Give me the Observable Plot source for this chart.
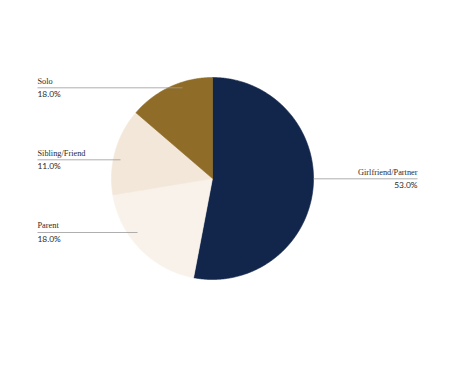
<!DOCTYPE html>
<html>
<head>
<meta charset="utf-8">
<script src="https://cdn.jsdelivr.net/npm/d3@7"></script>
<script src="https://cdn.jsdelivr.net/npm/@observablehq/plot@0.6"></script>
<style>
  html, body { margin: 0; padding: 0; background: #ffffff; }
  #chart { width: 450px; height: 368px; }
</style>
</head>
<body>
<div id="chart"></div>
<script>
// Data (slice shares as drawn, and label texts as printed)
const categories = ["Girlfriend/Partner", "Parent", "Sibling/Friend", "Solo"];
const shares = [53.0, 19.4, 13.9, 13.7];
const pctLabels = ["53.0%", "18.0%", "11.0%", "18.0%"];
const colors = ["#12254a", "#f9f2ea", "#f3e7d9", "#8f6d29"];

// Layout
const W = 450, H = 368;
const cx = 212, cy = 178, R = 101;
const labelLayout = [
  {side: "right", y: 178.3, x1: 313, x2: 417},
  {side: "left",  y: 232,   x1: 37,  x2: 137},
  {side: "left",  y: 159.3, x1: 37,  x2: 120},
  {side: "left",  y: 87.3,  x1: 37,  x2: 182}
];

const total = d3.sum(shares);
let acc = 0;
const slices = categories.map((c, i) => {
  const a0 = acc / total * 2 * Math.PI;
  acc += shares[i];
  const a1 = acc / total * 2 * Math.PI;
  const pts = [{x: cx, y: cy}];
  const n = Math.max(2, Math.ceil((a1 - a0) / 0.01));
  for (let k = 0; k <= n; k++) {
    const a = a0 + (a1 - a0) * k / n;
    pts.push({x: cx + R * Math.sin(a), y: cy - R * Math.cos(a)});
  }
  pts.push({x: cx, y: cy});
  return {name: c, color: colors[i], pts};
});

const labels = categories.map((c, i) => ({name: c, pct: pctLabels[i], ...labelLayout[i]}));
const leftL = labels.filter(d => d.side === "left");
const rightL = labels.filter(d => d.side === "right");

const nameStyle = {lineAnchor: "bottom", fontFamily: "Liberation Serif", fontSize: 8.3, fill: "#2b2b2b"};
const pctStyle = {lineAnchor: "bottom", fontFamily: "Lato", fontSize: 8.4, fill: "#2b2b2b"};

const marks = [];
for (const s of slices) {
  marks.push(Plot.line(s.pts, {x: "x", y: "y", fill: s.color, stroke: s.color, strokeWidth: 0.6, curve: "linear"}));
}
marks.push(Plot.link(labels, {x1: "x1", x2: "x2", y1: "y", y2: "y", stroke: "#9a9a9a", strokeWidth: 0.8}));
marks.push(Plot.text(leftL, {x: "x1", y: d => d.y - 4.3, text: "name", textAnchor: "start", ...nameStyle}));
marks.push(Plot.text(rightL, {x: "x2", y: d => d.y - 4.3, text: "name", textAnchor: "end", ...nameStyle}));
marks.push(Plot.text(leftL, {x: "x1", y: d => d.y + 9.4, text: "pct", textAnchor: "start", ...pctStyle}));
marks.push(Plot.text(rightL, {x: "x2", y: d => d.y + 9.4, text: "pct", textAnchor: "end", ...pctStyle}));

const chart = Plot.plot({
  width: W, height: H,
  margin: 0,
  x: {domain: [0, W], range: [0, W], axis: null},
  y: {domain: [0, H], range: [0, H], axis: null},
  style: {background: "#ffffff"},
  marks
});
document.getElementById("chart").appendChild(chart);
</script>
</body>
</html>
